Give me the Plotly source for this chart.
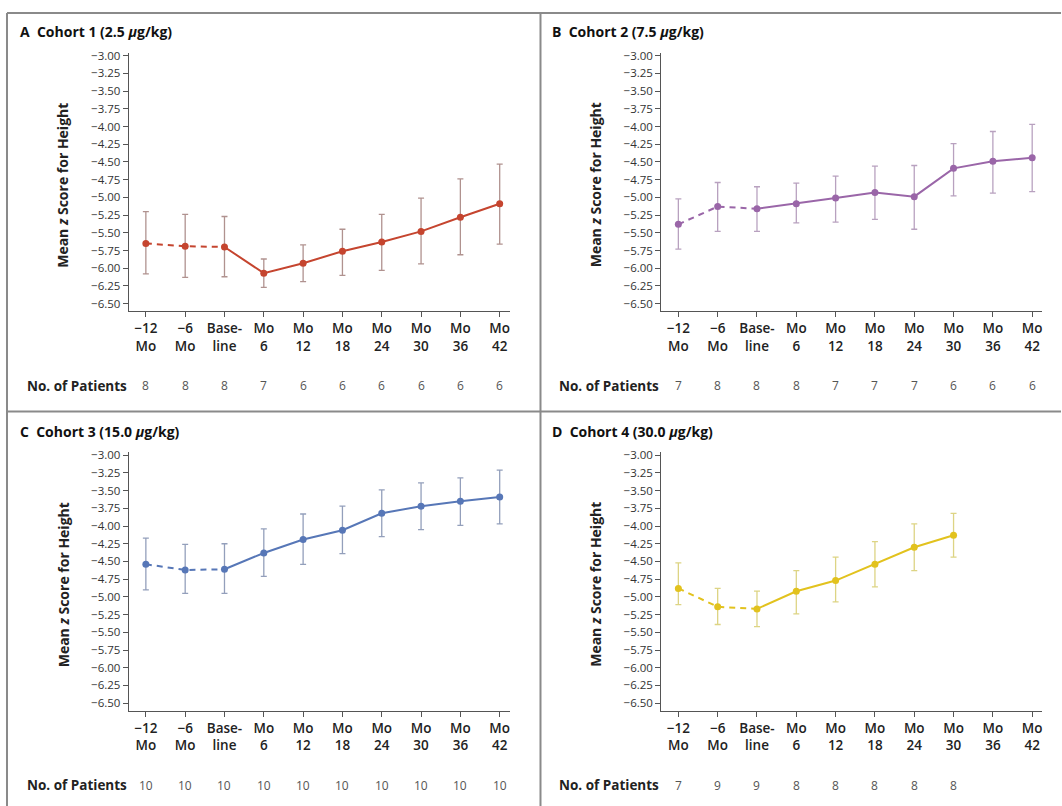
import plotly.graph_objects as go

# ---------------- data ----------------
categories = ["\u221212<br>Mo", "\u22126<br>Mo", "Base-<br>line", "Mo<br>6", "Mo<br>12",
              "Mo<br>18", "Mo<br>24", "Mo<br>30", "Mo<br>36", "Mo<br>42"]
y_ticks = [-3.00, -3.25, -3.50, -3.75, -4.00, -4.25, -4.50, -4.75,
           -5.00, -5.25, -5.50, -5.75, -6.00, -6.25, -6.50]

titles = ["Cohort 1 (2.5 <i>\u03bc</i>g/kg)", "Cohort 2 (7.5 <i>\u03bc</i>g/kg)",
          "Cohort 3 (15.0 <i>\u03bc</i>g/kg)", "Cohort 4 (30.0 <i>\u03bc</i>g/kg)"]
letters = ["A", "B", "C", "D"]

A_mean = [-5.65, -5.69, -5.70, -6.07, -5.93, -5.76, -5.63, -5.48, -5.28, -5.09]
A_upper = [-5.20, -5.24, -5.27, -5.87, -5.67, -5.45, -5.24, -5.01, -4.74, -4.53]
A_lower = [-6.08, -6.13, -6.12, -6.27, -6.19, -6.10, -6.03, -5.94, -5.81, -5.66]
A_n = [8, 8, 8, 7, 6, 6, 6, 6, 6, 6]

B_mean = [-5.38, -5.13, -5.16, -5.09, -5.01, -4.93, -4.99, -4.59, -4.49, -4.44]
B_upper = [-5.02, -4.79, -4.85, -4.80, -4.70, -4.56, -4.55, -4.24, -4.07, -3.97]
B_lower = [-5.73, -5.48, -5.48, -5.36, -5.35, -5.31, -5.45, -4.98, -4.94, -4.92]
B_n = [7, 8, 8, 8, 7, 7, 7, 6, 6, 6]

C_mean = [-4.54, -4.62, -4.61, -4.38, -4.19, -4.06, -3.82, -3.72, -3.65, -3.59]
C_upper = [-4.17, -4.26, -4.25, -4.04, -3.83, -3.72, -3.49, -3.39, -3.32, -3.21]
C_lower = [-4.90, -4.95, -4.95, -4.71, -4.54, -4.39, -4.15, -4.05, -3.99, -3.97]
C_n = [10, 10, 10, 10, 10, 10, 10, 10, 10, 10]

D_mean = [-4.88, -5.14, -5.17, -4.92, -4.77, -4.54, -4.30, -4.13]
D_upper = [-4.52, -4.88, -4.92, -4.63, -4.44, -4.22, -3.97, -3.82]
D_lower = [-5.11, -5.39, -5.42, -5.24, -5.07, -4.86, -4.63, -4.44]
D_n = [7, 9, 9, 8, 8, 8, 8, 8]

colors = ["#c5452f", "#9a66a8", "#5777b7", "#e2c21e"]
err_colors = ["rgba(150,110,105,0.75)", "rgba(160,130,170,0.75)",
              "rgba(120,135,170,0.8)", "rgba(215,205,110,0.85)"]

series = [(A_mean, A_upper, A_lower, A_n), (B_mean, B_upper, B_lower, B_n),
          (C_mean, C_upper, C_lower, C_n), (D_mean, D_upper, D_lower, D_n)]

# ---------------- layout geometry (pixels) ----------------
W, H = 1062, 806
offsets = [(0, 0), (533, 0), (0, 402), (533, 402)]
FONT = "Open Sans"


def xp(px):
    return px / W


def yp(py):
    return 1 - py / H


fig = go.Figure()
annotations = []
shapes = []

for k, ((mean, upper, lower, n), (ox, oy)) in enumerate(zip(series, offsets)):
    ax = "" if k == 0 else str(k + 1)
    xref, yref = "x" + ax, "y" + ax
    cats = categories[:len(mean)]
    eplus = [u - m for u, m in zip(upper, mean)]
    eminus = [m - l for l, m in zip(lower, mean)]

    # error bars + markers
    fig.add_trace(go.Scatter(
        x=cats, y=mean, mode="markers", xaxis=xref, yaxis=yref,
        marker=dict(size=7, color=colors[k]),
        error_y=dict(type="data", array=eplus, arrayminus=eminus, symmetric=False,
                     color=err_colors[k], thickness=1.3, width=3),
        showlegend=False, hoverinfo="skip"))
    # dashed pre-treatment segment
    fig.add_trace(go.Scatter(
        x=cats[:3], y=mean[:3], mode="lines", xaxis=xref, yaxis=yref,
        line=dict(color=colors[k], width=2, dash="6px,5px"),
        showlegend=False, hoverinfo="skip"))
    # solid segment from baseline
    fig.add_trace(go.Scatter(
        x=cats[2:], y=mean[2:], mode="lines", xaxis=xref, yaxis=yref,
        line=dict(color=colors[k], width=2),
        showlegend=False, hoverinfo="skip"))

    axis_common = dict(showgrid=False, zeroline=False, showline=True,
                       linecolor="#555", linewidth=1.3, ticks="outside",
                       tickcolor="#555", ticklen=5, tickwidth=1.2)
    fig.update_layout(**{
        "xaxis" + ax: dict(axis_common, type="category",
                           categoryorder="array", categoryarray=categories,
                           range=[-0.432, 9.25],
                           domain=[xp(129 + ox), xp(510 + ox)],
                           anchor=yref,
                           tickfont=dict(family=FONT, size=13.5, color="#222",
                                         weight=600)),
        "yaxis" + ax: dict(axis_common, range=[-6.605, -2.958],
                           domain=[yp(308 + oy), yp(48 + oy)],
                           anchor=xref,
                           tickvals=y_ticks,
                           ticktext=["\u2212%.2f" % abs(v) for v in y_ticks],
                           tickfont=dict(family=FONT, size=11.5, color="#333")),
    })

    # panel title
    annotations.append(dict(
        x=xp(18 + ox), y=yp(27 + oy), xref="paper", yref="paper",
        xanchor="left", yanchor="middle", showarrow=False,
        text="<b>%s</b>  <b>%s</b>" % (letters[k], titles[k]),
        font=dict(family=FONT, size=14, color="#111")))
    # y-axis title
    annotations.append(dict(
        x=xp(63 + ox), y=yp(181 + oy), xref="paper", yref="paper",
        xanchor="center", yanchor="middle", showarrow=False, textangle=-90,
        text="<b>Mean <i>z</i> Score for Height</b>",
        font=dict(family=FONT, size=14, color="#222")))
    # patients label
    annotations.append(dict(
        x=xp(25 + ox), y=yp(383 + oy), xref="paper", yref="paper",
        xanchor="left", yanchor="middle", showarrow=False,
        text="<b>No. of Patients</b>",
        font=dict(family=FONT, size=13.5, color="#222")))
    # patient counts
    for c, v in zip(cats, n):
        annotations.append(dict(
            x=c, y=yp(383 + oy), xref=xref, yref="paper",
            xanchor="center", yanchor="middle", showarrow=False,
            text=str(v), font=dict(family=FONT, size=12, color="#555")))

# borders and dividers
line_style = dict(color="#8a8a8a", width=2)
shapes.append(dict(type="line", xref="paper", yref="paper",
                   x0=xp(7), x1=1, y0=yp(8), y1=yp(8), line=line_style))
shapes.append(dict(type="line", xref="paper", yref="paper",
                   x0=xp(7), x1=xp(7), y0=yp(8), y1=0, line=line_style))
shapes.append(dict(type="line", xref="paper", yref="paper",
                   x0=xp(541), x1=xp(541), y0=yp(8), y1=0, line=line_style))
shapes.append(dict(type="line", xref="paper", yref="paper",
                   x0=xp(7), x1=1, y0=yp(409), y1=yp(409), line=line_style))

fig.update_layout(
    width=W, height=H, margin=dict(l=0, r=0, t=0, b=0),
    paper_bgcolor="white", plot_bgcolor="white",
    annotations=annotations, shapes=shapes,
    font=dict(family=FONT),
)

fig.write_html("out.html")
